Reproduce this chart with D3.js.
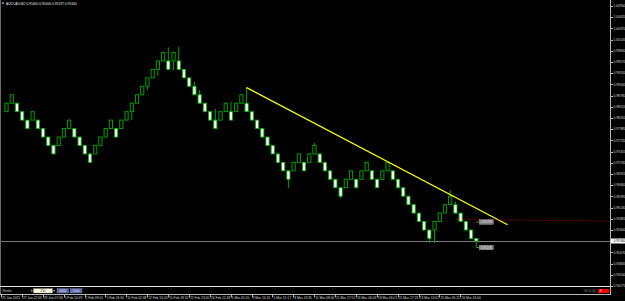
<!DOCTYPE html>
<html>
<head>
<meta charset="utf-8">
<script src="https://cdn.jsdelivr.net/npm/d3@7/dist/d3.min.js"></script>
<style>
  html, body { margin: 0; padding: 0; background: #000; overflow: hidden; }
  svg { display: block; }
</style>
</head>
<body>
<script>
// renko AUDCAD, box 200 points
var boxSize = 0.002;
var closes = [
  0.98600, 0.98800, 0.98400, 0.98200, 0.98000, 0.98400, 0.98000, 0.97800, 0.97600, 0.97400,
  0.97800, 0.98000, 0.98200, 0.97800, 0.97600, 0.97400, 0.97200, 0.97600, 0.97800, 0.98000,
  0.98200, 0.97800, 0.98200, 0.98400, 0.98600, 0.98800, 0.99000, 0.99200, 0.99400, 0.99600,
  0.99800, 0.99400, 0.99800, 0.99400, 0.99200, 0.99000, 0.98800, 0.98600, 0.98400, 0.98200,
  0.98000, 0.98400, 0.98600, 0.98200, 0.98600, 0.98800, 0.98400, 0.98200, 0.98000, 0.97800,
  0.97600, 0.97400, 0.97200, 0.97000, 0.96800, 0.97200, 0.97400, 0.97000, 0.97400, 0.97600,
  0.97200, 0.97000, 0.96800, 0.96600, 0.96400, 0.96800, 0.97000, 0.96600, 0.97000, 0.97200,
  0.96800, 0.96600, 0.97000, 0.97200, 0.96800, 0.96600, 0.96400, 0.96200, 0.96000, 0.95800,
  0.95600, 0.95400, 0.95800, 0.96000, 0.96200, 0.96400, 0.96000, 0.95800, 0.95600, 0.95400,
  0.95340
];
var wickBars   = [16, 24, 27, 29, 31, 32, 33, 36, 37, 40, 43, 46, 54, 59, 64, 81, 82, 85, 86, 90];
var wickPrices = [0.97256, 0.98202, 0.98912, 0.99244, 0.99923, 0.99386, 0.99937, 0.99109, 0.98912, 0.98463,
                  0.98635, 0.98983, 0.96593, 0.97658, 0.96357, 0.95292, 0.95292, 0.96546, 0.96269, 0.95197];
var lastPrice = 0.95340;

var priceTicks = [1.00900, 1.00635, 1.00370, 1.00105, 0.99840, 0.99575, 0.99310, 0.99045, 0.98780, 0.98515,
                  0.98250, 0.97985, 0.97720, 0.97455, 0.97190, 0.96925, 0.96660, 0.96395, 0.96130, 0.95865,
                  0.95600, 0.95335, 0.95070, 0.94805, 0.94540, 0.94275];
var timeLabels = ["25 Jan 2021", "27 Jan 22:05", "29 Jan 07:06", "1 Feb 14:49", "2 Feb 09:01", "5 Feb 16:30",
                  "11 Feb 02:38", "12 Feb 16:20", "15 Feb 18:32", "22 Feb 23:00", "26 Feb 12:48", "1 Mar 05:20",
                  "3 Mar 16:20", "5 Mar 15:17", "8 Mar 13:35", "11 Mar 08:00", "11 Mar 17:52", "16 Mar 06:03",
                  "18 Mar 06:01", "22 Mar 17:23", "23 Mar 13:02", "25 Mar 05:21", "26 Mar 13:00"];
var timeLabelBars = [0, 4, 8, 12, 16, 20, 24, 28, 32, 36, 40, 44, 48, 52, 56, 60, 64, 68, 72, 76, 80, 84, 88];

var trendBars = [46, 96];
var trendPrices = [0.98970, 0.95725];
var stopBars = [87.5, 115.5];
var stopPrices = [0.95848, 0.95812];
var tagPrices = [0.95789, 0.95185];
var title = "AUDCAD,M2  0.95400 0.95400 0.95197 0.95340";

var W = 625, H = 301;
var axisX = 610.5;
var font = "'Liberation Sans', Arial, sans-serif";

var svg = d3.select("body").append("svg")
  .attr("width", W)
  .attr("height", H)
  .style("background", "#000");

var x = d3.scaleLinear().domain([0, 100]).range([6.5, 6.5 + 100 * 5.22]);
var y = d3.scaleLinear().domain([priceTicks[0], priceTicks[priceTicks.length - 1]]).range([6, 286]);

// build bricks: open from renko rule
var bars = [];
closes.forEach(function(c, i) {
  var o, up;
  if (i == 0) { up = true; o = c - boxSize; }
  else {
    var p = bars[i - 1];
    up = c > p.c;
    if (up) o = p.up ? p.c : p.o;
    else o = p.up ? p.o : p.c;
  }
  bars.push({ i: i, o: o, c: c, up: up });
});

var plot = svg.append("g");

// bid line
plot.append("line")
  .attr("x1", 0).attr("x2", axisX)
  .attr("y1", Math.round(y(lastPrice)) + 0.5).attr("y2", Math.round(y(lastPrice)) + 0.5)
  .attr("stroke", "#7a7a7a").attr("stroke-width", 1);

// wicks
plot.selectAll("line.wick")
  .data(wickBars)
  .enter()
  .append("line")
  .attr("class", "wick")
  .attr("x1", function(d) { return x(d); })
  .attr("x2", function(d) { return x(d); })
  .attr("y1", function(d) {
    var b = bars[d];
    var w = wickPrices[wickBars.indexOf(d)];
    return w > Math.max(b.o, b.c) ? y(Math.max(b.o, b.c)) : y(Math.min(b.o, b.c));
  })
  .attr("y2", function(d, k) { return y(wickPrices[k]); })
  .attr("stroke", "#00a800")
  .attr("stroke-width", 1);

// bricks
plot.selectAll("rect.brick")
  .data(bars)
  .enter()
  .append("rect")
  .attr("class", "brick")
  .attr("x", function(d) { return x(d.i) - 1.6; })
  .attr("y", function(d) { return y(Math.max(d.o, d.c)); })
  .attr("width", 3.2)
  .attr("height", function(d) { return Math.max(1, y(Math.min(d.o, d.c)) - y(Math.max(d.o, d.c))); })
  .attr("fill", function(d) { return d.up ? "#000" : "#fff"; })
  .attr("stroke", "#00b000")
  .attr("stroke-width", 0.9);

// trend line
plot.append("line")
  .attr("x1", x(trendBars[0])).attr("y1", y(trendPrices[0]))
  .attr("x2", x(trendBars[1])).attr("y2", y(trendPrices[1]))
  .attr("stroke", "#ffff00").attr("stroke-width", 1.3);

// red dotted line
plot.append("line")
  .attr("x1", x(stopBars[0])).attr("y1", y(stopPrices[0]))
  .attr("x2", x(stopBars[1])).attr("y2", y(stopPrices[1]))
  .attr("stroke", "#b00000").attr("stroke-width", 1)
  .attr("stroke-dasharray", "1,1.5");

plot.append("rect")
  .attr("x", x(86.4)).attr("y", y(stopPrices[0]) - 1)
  .attr("width", 2).attr("height", 1.5)
  .attr("fill", "#ff2020");

// price tags near the last bricks
var tags = plot.selectAll("g.tag")
  .data(tagPrices)
  .enter()
  .append("g")
  .attr("class", "tag");
tags.append("line")
  .attr("x1", x(90)).attr("x2", x(90) + 3)
  .attr("y1", function(d) { return y(d); }).attr("y2", function(d) { return y(d); })
  .attr("stroke", "#9a9a9a").attr("stroke-width", 0.8);
tags.append("rect")
  .attr("x", x(90) + 3).attr("y", function(d) { return y(d) - 2.3; })
  .attr("width", 14).attr("height", 4.6)
  .attr("fill", "#7d7d7d").attr("stroke", "#b0b0b0").attr("stroke-width", 0.4);
tags.append("text")
  .attr("x", x(90) + 10).attr("y", function(d) { return y(d) + 1.1; })
  .attr("text-anchor", "middle")
  .attr("font-family", font).attr("font-size", "3.1px")
  .attr("fill", "#e8e8e8")
  .text(function(d) { return d.toFixed(5); });

// frame
svg.append("line").attr("x1", 0.5).attr("x2", 0.5).attr("y1", 0).attr("y2", 294)
  .attr("stroke", "#6a6a6a");
svg.append("line").attr("x1", axisX).attr("x2", axisX).attr("y1", 0).attr("y2", 295)
  .attr("stroke", "#b8b8b8");
svg.append("line").attr("x1", 0).attr("x2", axisX).attr("y1", 286.5).attr("y2", 286.5)
  .attr("stroke", "#e6e6e6");
svg.append("line").attr("x1", 0).attr("x2", axisX).attr("y1", 294.5).attr("y2", 294.5)
  .attr("stroke", "#b8b8b8");

// price axis
var yAxis = svg.append("g");
yAxis.selectAll("line")
  .data(priceTicks)
  .enter()
  .append("line")
  .attr("x1", axisX).attr("x2", axisX + 2.5)
  .attr("y1", function(d) { return Math.round(y(d)) + 0.5; })
  .attr("y2", function(d) { return Math.round(y(d)) + 0.5; })
  .attr("stroke", "#b8b8b8");
yAxis.selectAll("text")
  .data(priceTicks)
  .enter()
  .append("text")
  .attr("x", axisX + 3)
  .attr("y", function(d) { return y(d) + 1.2; })
  .attr("font-family", font).attr("font-size", "3.3px")
  .attr("fill", "#d8d8d8")
  .text(function(d) { return d.toFixed(5); });

// current price tag on axis
yAxis.append("rect")
  .attr("x", axisX + 0.5).attr("y", y(lastPrice) - 2.5)
  .attr("width", W - axisX).attr("height", 5)
  .attr("fill", "#fff");
yAxis.append("text")
  .attr("x", axisX + 3).attr("y", y(lastPrice) + 1.2)
  .attr("font-family", font).attr("font-size", "3.3px")
  .attr("fill", "#000")
  .text(lastPrice.toFixed(5));

// time axis
var tAxis = svg.append("g");
tAxis.selectAll("line")
  .data(timeLabelBars)
  .enter()
  .append("line")
  .attr("x1", function(d) { return Math.round(x(d) - 5.5) + 0.5; })
  .attr("x2", function(d) { return Math.round(x(d) - 5.5) + 0.5; })
  .attr("y1", 294.5).attr("y2", 297.5)
  .attr("stroke", "#b8b8b8");
tAxis.selectAll("text")
  .data(timeLabelBars)
  .enter()
  .append("text")
  .attr("x", function(d) { return x(d) - 4.5; })
  .attr("y", 299.3)
  .attr("font-family", font).attr("font-size", "3.3px")
  .attr("fill", "#d8d8d8")
  .text(function(d, k) { return timeLabels[k]; });

// title
svg.append("path").attr("d", "M2,2.5 L4,2.5 L3,4.5 Z").attr("fill", "#fff");
svg.append("text")
  .attr("x", 6).attr("y", 4.8)
  .attr("font-family", font).attr("font-size", "3.3px")
  .attr("fill", "#e8e8e8")
  .text(title);

// renko toolbar
var tb = svg.append("g").attr("font-family", font).attr("font-size", "3.1px");
tb.append("text").attr("x", 2.5).attr("y", 292).attr("fill", "#d0d0d0").text("Renko");
tb.append("path").attr("d", "M32.3,289.6 L30.8,290.8 L32.3,292 Z").attr("fill", "#d0d0d0");
tb.append("rect").attr("x", 33.5).attr("y", 288.6).attr("width", 19).attr("height", 4.4)
  .attr("fill", "#fdf8dc").attr("stroke", "#9a9a9a").attr("stroke-width", 0.4);
tb.append("text").attr("x", 43).attr("y", 292).attr("text-anchor", "middle").attr("fill", "#333").text("200");
tb.append("path").attr("d", "M53.6,289.6 L55.1,290.8 L53.6,292 Z").attr("fill", "#d0d0d0");
tb.append("rect").attr("x", 57).attr("y", 288.6).attr("width", 11.5).attr("height", 4.4)
  .attr("fill", "#5566a6").attr("stroke", "#8890c0").attr("stroke-width", 0.4);
tb.append("text").attr("x", 62.7).attr("y", 292).attr("text-anchor", "middle").attr("fill", "#e8e8ff").text("0000");
tb.append("rect").attr("x", 70).attr("y", 288.6).attr("width", 12).attr("height", 4.4)
  .attr("fill", "#5566a6").attr("stroke", "#8890c0").attr("stroke-width", 0.4);
tb.append("text").attr("x", 76).attr("y", 292).attr("text-anchor", "middle").attr("fill", "#e8e8ff").text("5150");

// bar timer bottom right
svg.append("text").attr("x", 595.5).attr("y", 292.2).attr("text-anchor", "end")
  .attr("font-family", font).attr("font-size", "3px").attr("fill", "#9a9a9a").text("06:51:40");
svg.append("rect").attr("x", 598).attr("y", 289).attr("width", 11).attr("height", 4)
  .attr("fill", "#ff0000");
svg.append("text").attr("x", 600).attr("y", 292.2)
  .attr("font-family", font).attr("font-size", "3px").attr("fill", "#fff").text("8");
</script>
</body>
</html>
